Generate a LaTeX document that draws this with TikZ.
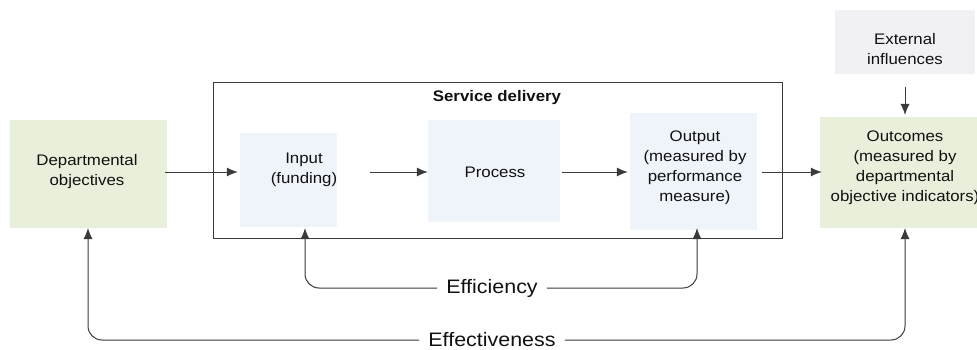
\documentclass[tikz,border=0pt]{standalone}
\usepackage{fontspec}
\setmainfont{Liberation Sans}[FakeStretch=1.1]
\usetikzlibrary{arrows.meta,calc}
\definecolor{greenfill}{HTML}{E8EFDA}
\definecolor{bluefill}{HTML}{EFF3FA}
\definecolor{grayfill}{HTML}{F1F1F5}
\definecolor{linec}{HTML}{3A3A3A}
\definecolor{textc}{HTML}{111111}
\begin{document}
\begin{tikzpicture}[x=1pt,y=-1pt,
  txt/.style={font=\fontsize{15.3}{20}\selectfont, align=center, inner sep=0pt, text=textc},
  bigtxt/.style={font=\fontsize{19.5}{22}\selectfont, inner xsep=9pt, inner ysep=0pt, text=textc},
  arr/.style={draw=linec, line width=1pt, -{Latex[length=11pt,width=9pt]}}]
\useasboundingbox (0,0) rectangle (977,350);
\fill[white] (0,0) rectangle (977,350);
% background fills
\fill[greenfill] (10,120) rectangle (167,228);
\fill[greenfill] (820,117) rectangle (977,228);
\fill[grayfill] (835,10) rectangle (975,74);
\fill[bluefill] (240,133) rectangle (337,227);
\fill[bluefill] (428,120) rectangle (560,222);
\fill[bluefill] (630,113) rectangle (757,230);
% service delivery frame
\node[draw=linec, line width=1pt, minimum width=569pt, minimum height=155pt, inner sep=0pt] (sd) at (497.5,160.5) {};
\node[txt, font=\fontsize{15.3}{20}\selectfont\bfseries] (sdl) at (497,98) {Service delivery};
% main nodes
\node[txt, minimum width=156pt] (dep) at (87,172) {Departmental\\objectives};
\node[txt, minimum width=132pt] (inp) at (304,170) {Input\\(funding)};
\node[txt, minimum width=134pt] (proc) at (495,172) {Process};
\node[txt, minimum width=134pt] (outp) at (695,168) {Output\\(measured by\\performance\\measure)};
\node[txt, minimum width=166pt] (outc) at (905,168) {Outcomes\\(measured by\\departmental\\objective indicators)};
\node[txt] (ext) at (905,49) {External\\influences};
% horizontal flow arrows
\draw[arr] (dep.east |- 0,172) -- (inp.west |- 0,172);
\draw[arr] (inp.east |- 0,172) -- (proc.west |- 0,172);
\draw[arr] (proc.east |- 0,172) -- (outp.west |- 0,172);
\draw[arr] (outp.east |- 0,172) -- (outc.west |- 0,172);
% external influences arrow
\coordinate (extB) at (905,87);
\coordinate (outcT) at (905,115);
\draw[arr] (extB) -- (outcT);
% efficiency loop
\node[bigtxt] (effy) at (492,288) {Efficiency};
\coordinate (inpB) at (305,228);
\coordinate (outB) at (697,228);
\draw[arr, rounded corners=14pt] (effy.west) -| (inpB);
\draw[arr, rounded corners=14pt] (effy.east) -| (outB);
% effectiveness loop
\node[bigtxt] (effn) at (492,340) {Effectiveness};
\coordinate (depB) at (88,228);
\coordinate (outcB) at (905,228);
\draw[arr, rounded corners=14pt] (effn.west) -| (depB);
\draw[arr, rounded corners=14pt] (effn.east) -| (outcB);
\end{tikzpicture}
\end{document}
